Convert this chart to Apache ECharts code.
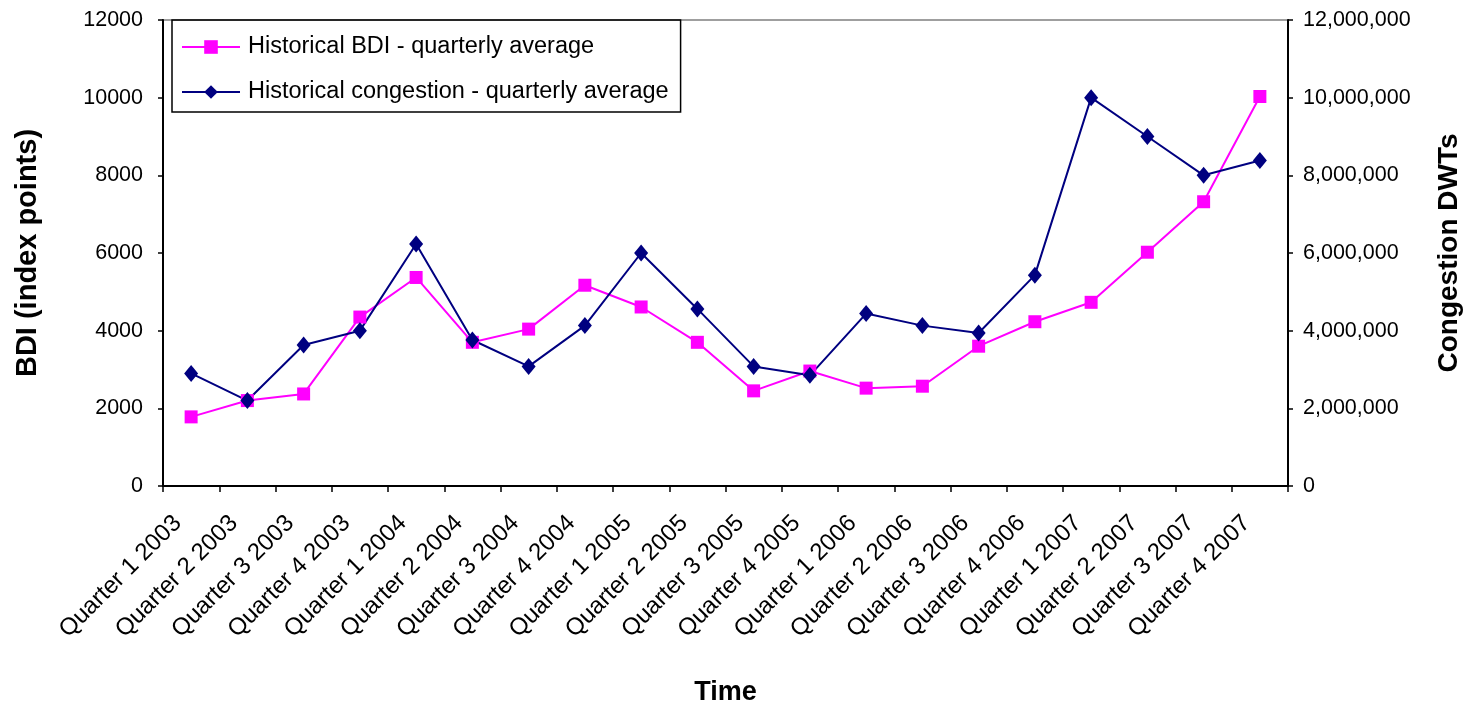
<!DOCTYPE html>
<html>
<head>
<meta charset="utf-8">
<script src="https://cdn.jsdelivr.net/npm/echarts@6/dist/echarts.min.js"></script>
<style>html,body{margin:0;padding:0;background:#fff;}#c{width:1464px;height:704px;}</style>
</head>
<body>
<div id="c"></div>
<script>
const categories = ["Quarter 1 2003","Quarter 2 2003","Quarter 3 2003","Quarter 4 2003","Quarter 1 2004","Quarter 2 2004","Quarter 3 2004","Quarter 4 2004","Quarter 1 2005","Quarter 2 2005","Quarter 3 2005","Quarter 4 2005","Quarter 1 2006","Quarter 2 2006","Quarter 3 2006","Quarter 4 2006","Quarter 1 2007","Quarter 2 2007","Quarter 3 2007","Quarter 4 2007"];
const bdi = [1780,2200,2370,4350,5370,3700,4040,5170,4610,3700,2450,2960,2520,2570,3600,4230,4730,6020,7320,10030];
const congestion = [2900000,2200000,3630000,4000000,6230000,3760000,3080000,4130000,6000000,4560000,3080000,2850000,4440000,4130000,3940000,5430000,10000000,9000000,8000000,8380000];
const seriesNames = ["Historical BDI - quarterly average","Historical congestion - quarterly average"];

const font = "'Liberation Sans', Arial, sans-serif";
const chart = echarts.init(document.getElementById('c'), null, {renderer:'canvas'});
chart.setOption({
  animation:false,
  backgroundColor:'#fff',
  grid:{left:163,right:176,top:20,bottom:218,show:true,borderColor:'#808080',borderWidth:1.5,
        containLabel:false,outerBoundsMode:'none'},
  legend:{
    orient:'vertical',left:172,top:20,
    borderColor:'#000',borderWidth:1.5,
    padding:[14,12,7,9],itemGap:19,itemWidth:58,itemHeight:17,
    textStyle:{fontFamily:font,fontSize:23.5,color:'#000',lineHeight:26,padding:[0,0,0,3]},
    data:seriesNames
  },
  xAxis:{
    type:'category',data:categories,boundaryGap:true,
    name:'Time',nameLocation:'middle',nameGap:193,
    nameTextStyle:{fontFamily:font,fontSize:27,fontWeight:'bold',color:'#000'},
    axisLine:{lineStyle:{color:'#000',width:2}},
    axisTick:{show:true,length:6,lineStyle:{color:'#000',width:1.5}},
    axisLabel:{interval:0,rotate:45,fontFamily:font,fontSize:24,color:'#000',margin:20,padding:[0,19,0,0]},
    splitLine:{show:false}
  },
  yAxis:[{
    type:'value',min:0,max:12000,interval:2000,
    name:'BDI (index points)',nameLocation:'middle',nameGap:121,nameRotate:90,
    nameTextStyle:{fontFamily:font,fontSize:29,fontWeight:'bold',color:'#000'},
    axisLine:{show:true,lineStyle:{color:'#000',width:2}},
    axisTick:{show:true,length:5,lineStyle:{color:'#000',width:1.5}},
    axisLabel:{fontFamily:font,fontSize:21.5,color:'#000',margin:20,formatter:v=>String(v)},
    splitLine:{show:false}
  },{
    type:'value',min:0,max:12000000,interval:2000000,position:'right',
    name:'Congestion DWTs',nameLocation:'middle',nameGap:147,nameRotate:90,
    nameTextStyle:{fontFamily:font,fontSize:28,fontWeight:'bold',color:'#000'},
    axisLine:{show:true,lineStyle:{color:'#000',width:2}},
    axisTick:{show:true,length:5,lineStyle:{color:'#000',width:1.5}},
    axisLabel:{fontFamily:font,fontSize:21.5,color:'#000',margin:15,
      formatter:v=>v.toLocaleString('en-US')},
    splitLine:{show:false}
  }],
  series:[{
    name:seriesNames[0],type:'line',yAxisIndex:0,data:bdi,
    symbol:'rect',symbolSize:13,
    lineStyle:{color:'#FF00FF',width:2},itemStyle:{color:'#FF00FF'}
  },{
    name:seriesNames[1],type:'line',yAxisIndex:1,data:congestion,
    symbol:'diamond',symbolSize:[14,17],
    lineStyle:{color:'#000080',width:2},itemStyle:{color:'#000080'}
  }]
});
</script>
</body>
</html>
